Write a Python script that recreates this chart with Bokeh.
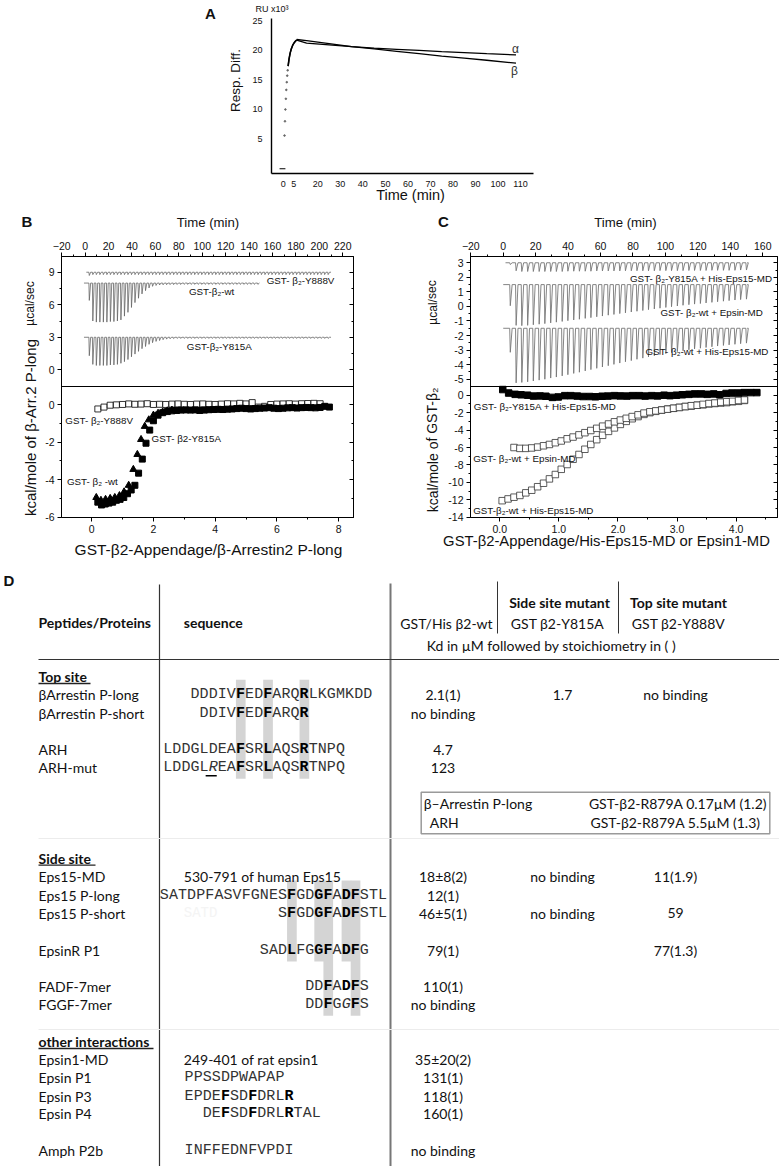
from bokeh.plotting import figure
from bokeh.models import Range1d, LinearAxis, FixedTicker, Label, Span, CustomJSTickFormatter, NumeralTickFormatter
from bokeh.layouts import column, row
from bokeh.embed import file_html
from bokeh.resources import INLINE
from bokeh.core.properties import value

SANS = "Liberation Sans"
TAB = "Lato"
MONO = "Liberation Mono"
INK = "#111111"
ROT = 1.5708

# ======================= DATA =======================
# ---- Panel A (SPR sensorgram) ----
A_base_t = [3.0, 5.6]
A_base_y = [0.0, 0.0]
A_dot_t = [5.2, 5.4, 5.6, 5.8, 6.0, 6.2, 6.4, 6.6]
A_dot_y = [5.6, 8.0, 10.0, 11.8, 13.3, 14.6, 15.7, 16.6]
A_rise_t = [6.8, 7.2, 7.7, 8.2, 8.8, 9.4, 10.0, 10.6]
A_rise_y = [17.3, 18.5, 19.5, 20.2, 20.8, 21.2, 21.5, 21.7]
A_t = [10.6, 15, 25, 35, 45, 55, 65, 75, 85, 95, 108]
A_alpha = [21.3, 21.2, 20.9, 20.6, 20.35, 20.15, 19.95, 19.75, 19.6, 19.4, 19.2]
A_beta = [21.8, 21.6, 21.1, 20.6, 20.2, 19.8, 19.4, 19.0, 18.65, 18.3, 17.8]
A_xtick_pos = [4.6, 9.3, 20, 30, 40, 50, 60, 70, 80, 90, 100, 110]
A_xtick_lab = ["0", "5", "20", "30", "40", "50", "60", "70", "80", "90", "100", "110"]
A_yticks = [5, 10, 15, 20, 25]

# ---- Panel B (ITC, beta-arrestin P-long) ----
B_inj_t = [3.2, 6.2, 9.2, 12.2, 15.2, 18.2, 21.2, 24.2, 27.2, 30.2,
           33.2, 36.2, 39.2, 42.2, 45.2, 48.2, 51.2, 54.2, 57.2, 60.2,
           63.2, 66.2, 69.2, 72.2, 75.2, 78.2, 81.2, 84.2, 87.2, 90.2,
           93.2, 96.2, 99.2, 102.2, 105.2, 108.2, 111.2, 114.2, 117.2, 120.2,
           123.2, 126.2, 129.2, 132.2, 135.2, 138.2, 141.2, 144.2, 147.2, 150.2,
           153.2, 156.2, 159.2, 162.2, 165.2, 168.2, 171.2, 174.2, 177.2, 180.2,
           183.2, 186.2, 189.2, 192.2, 195.2, 198.2, 201.2, 204.2, 207.2]
B_wt_depth = [1.6, 3.5, 3.6, 3.6, 3.6, 3.6, 3.55, 3.55, 3.5, 3.4,
              3.05, 2.7, 2.25, 1.8, 1.4, 1.0, 0.7, 0.45, 0.3, 0.22,
              0.18, 0.16, 0.15, 0.14, 0.14, 0.13, 0.13, 0.12, 0.12, 0.12,
              0.12, 0.12, 0.12, 0.12, 0.12, 0.12, 0.12, 0.12, 0.12, 0.12,
              0.12, 0.12, 0.12, 0.12, 0.12, 0.12, 0.12, 0.12, 0.12]
B_y815a_depth = [1.7, 2.5, 2.6, 2.6, 2.6, 2.6, 2.55, 2.55, 2.5, 2.4,
                 2.25, 2.05, 1.8, 1.55, 1.3, 1.05, 0.85, 0.65, 0.5, 0.38,
                 0.3, 0.22, 0.17, 0.14, 0.12, 0.1, 0.1, 0.1, 0.1, 0.1,
                 0.1, 0.1, 0.1, 0.1, 0.1, 0.1, 0.1, 0.1, 0.1, 0.1,
                 0.1, 0.1, 0.1, 0.1, 0.1, 0.1, 0.1, 0.1, 0.1, 0.1,
                 0.1, 0.1, 0.1, 0.1, 0.1, 0.1, 0.1, 0.1, 0.1, 0.1,
                 0.1, 0.1, 0.1, 0.1, 0.1, 0.1, 0.1, 0.1, 0.1]
B_y888v_depth = [0.3, 0.22, 0.22, 0.22, 0.22, 0.22, 0.22, 0.22, 0.22, 0.22,
                 0.22, 0.22, 0.22, 0.22, 0.22, 0.22, 0.22, 0.22, 0.22, 0.22,
                 0.22, 0.22, 0.22, 0.22, 0.22, 0.22, 0.22, 0.22, 0.22, 0.22,
                 0.22, 0.22, 0.22, 0.22, 0.22, 0.22, 0.22, 0.22, 0.22, 0.22,
                 0.22, 0.22, 0.22, 0.22, 0.22, 0.22, 0.22, 0.22, 0.22, 0.22,
                 0.22, 0.22, 0.22, 0.22, 0.22, 0.22, 0.22, 0.22, 0.22, 0.22,
                 0.22, 0.22, 0.22, 0.22, 0.22, 0.22, 0.22, 0.22, 0.22]
B_base = {"Y888V": 9.0, "wt": 8.0, "Y815A": 3.0}

B_wt_x = [0.15, 0.30, 0.45, 0.60, 0.75, 0.90, 1.05, 1.20, 1.35, 1.48,
          1.60, 1.72, 1.85, 2.00, 2.15, 2.30, 2.45, 2.60]
B_wt_y = [-4.95, -5.10, -5.05, -5.00, -4.95, -4.85, -4.65, -4.30, -3.45, -2.65,
          -1.85, -1.15, -0.80, -0.55, -0.45, -0.38, -0.32, -0.28]
B_y815a_x = [0.20, 0.32, 0.44, 0.56, 0.68, 0.80, 0.92, 1.04, 1.16, 1.28,
             1.40, 1.52, 1.64, 1.76, 1.88, 2.00, 2.15, 2.30, 2.45, 2.60,
             2.75, 2.90, 3.05, 3.20, 3.35, 3.50, 3.65, 3.80, 3.95, 4.10,
             4.25, 4.40, 4.55, 4.70, 4.85, 5.00, 5.15, 5.30, 5.45, 5.60,
             5.75, 5.90, 6.05, 6.20, 6.35, 6.50, 6.65, 6.80, 6.95, 7.10,
             7.25, 7.40, 7.55, 7.70]
B_y815a_y = [-5.20, -5.35, -5.30, -5.25, -5.20, -5.10, -5.05, -4.95, -4.75, -4.55,
             -4.30, -3.65, -2.90, -2.05, -1.35, -0.85, -0.55, -0.42, -0.36, -0.32,
             -0.30, -0.28, -0.27, -0.28, -0.27, -0.30, -0.28, -0.26, -0.25, -0.24,
             -0.25, -0.23, -0.22, -0.20, -0.18, -0.20, -0.22, -0.20, -0.18, -0.17,
             -0.15, -0.18, -0.20, -0.18, -0.16, -0.15, -0.17, -0.15, -0.14, -0.15,
             -0.16, -0.14, -0.08, -0.12]
B_y888v_x = [0.2, 0.4, 0.6, 0.8, 1.0, 1.2, 1.4, 1.6, 1.8, 2.0,
             2.2, 2.4, 2.6, 2.8, 3.0, 3.2, 3.4, 3.6, 3.8, 4.0,
             4.2, 4.4, 4.6, 4.8, 5.0, 5.2, 5.4, 5.6, 5.8, 6.0,
             6.2, 6.4, 6.6, 6.8, 7.0, 7.2, 7.4]
B_y888v_y = [-0.22, -0.12, -0.02, 0.00, 0.02, 0.05, 0.03, 0.04, 0.06, 0.02,
             0.03, 0.02, 0.04, 0.05, 0.03, 0.02, 0.04, 0.05, 0.03, 0.02,
             0.04, 0.06, 0.05, 0.08, 0.05, 0.12, -0.12, -0.08, 0.02, 0.04,
             0.05, 0.06, 0.04, 0.06, 0.07, 0.08, 0.06]

# ---- Panel C (ITC, Eps15 / Epsin MD) ----
C_inj_t = [4.0, 7.6, 11.1, 14.7, 18.2, 21.8, 25.3, 28.9, 32.4, 36.0,
           39.5, 43.1, 46.6, 50.2, 53.7, 57.3, 60.8, 64.4, 67.9, 71.5,
           75.0, 78.6, 82.1, 85.7, 89.2, 92.8, 96.3, 99.9, 103.4, 107.0,
           110.5, 114.1, 117.6, 121.2, 124.7, 128.3, 131.8, 135.4, 138.9, 142.5,
           146.0, 149.6]
C_y815a_depth = [0.12, 0.55, 0.6, 0.6, 0.6, 0.6, 0.6, 0.6, 0.6, 0.6,
                 0.58, 0.58, 0.58, 0.58, 0.58, 0.56, 0.56, 0.56, 0.56, 0.56,
                 0.55, 0.55, 0.55, 0.55, 0.55, 0.55, 0.54, 0.54, 0.54, 0.54,
                 0.54, 0.53, 0.53, 0.53, 0.53, 0.52, 0.52, 0.52, 0.52, 0.52,
                 0.5, 0.5]
C_epsin_depth = [1.45, 2.8, 2.82, 2.8, 2.76, 2.72, 2.68, 2.63, 2.58, 2.53,
                 2.48, 2.43, 2.38, 2.32, 2.27, 2.21, 2.16, 2.1, 2.05, 1.99,
                 1.94, 1.88, 1.83, 1.78, 1.72, 1.67, 1.62, 1.57, 1.52, 1.47,
                 1.42, 1.38, 1.34, 1.3, 1.26, 1.22, 1.18, 1.14, 1.1, 1.06,
                 1.03, 1.0]
C_eps15_depth = [1.65, 3.75, 3.72, 3.68, 3.62, 3.56, 3.5, 3.42, 3.35, 3.27,
                 3.19, 3.1, 3.02, 2.93, 2.84, 2.75, 2.66, 2.57, 2.48, 2.39,
                 2.3, 2.22, 2.13, 2.05, 1.97, 1.89, 1.81, 1.74, 1.67, 1.6,
                 1.54, 1.48, 1.42, 1.37, 1.32, 1.27, 1.22, 1.18, 1.14, 1.1,
                 1.06, 1.02]
C_base = {"Y815A": 3.0, "epsin": 1.5, "eps15": -1.5}

C_y815a_x = [0.05, 0.15, 0.26, 0.36, 0.47, 0.57, 0.68, 0.78, 0.89, 0.99,
             1.10, 1.20, 1.31, 1.41, 1.52, 1.62, 1.73, 1.83, 1.94, 2.04,
             2.15, 2.25, 2.36, 2.46, 2.57, 2.67, 2.78, 2.88, 2.99, 3.09,
             3.20, 3.30, 3.41, 3.51, 3.62, 3.72, 3.83, 3.93, 4.04, 4.14,
             4.25, 4.35]
C_y815a_y = [0.65, 0.25, 0.10, 0.05, 0.00, -0.10, -0.08, -0.12, -0.25, -0.20,
             -0.05, -0.05, -0.10, -0.15, -0.15, -0.18, -0.12, -0.10, -0.05, -0.08,
             -0.10, -0.05, -0.05, -0.10, -0.05, -0.08, 0.00, -0.05, 0.00, 0.05,
             0.10, 0.15, 0.15, 0.10, 0.15, 0.05, 0.20, 0.25, 0.25, 0.30,
             0.30, 0.30]
C_epsin_x = [0.24, 0.34, 0.44, 0.54, 0.64, 0.74, 0.84, 0.94, 1.04, 1.14,
             1.24, 1.34, 1.44, 1.54, 1.64, 1.74, 1.84, 1.94, 2.04, 2.14,
             2.24, 2.34, 2.44, 2.54, 2.64, 2.74, 2.84, 2.94, 3.04, 3.14,
             3.24, 3.34, 3.44, 3.54, 3.64, 3.74, 3.84, 3.94, 4.04, 4.14]
C_epsin_y = [-6.0, -6.1, -6.1, -6.05, -5.95, -5.8, -5.65, -5.45, -5.25, -5.0,
             -4.8, -4.55, -4.3, -4.05, -3.8, -3.55, -3.3, -3.05, -2.85, -2.65,
             -2.45, -2.25, -2.05, -1.9, -1.8, -1.7, -1.6, -1.5, -1.4, -1.3,
             -1.2, -1.15, -1.05, -0.95, -0.9, -0.8, -0.75, -0.7, -0.6, -0.55]
C_eps15_x = [0.04, 0.14, 0.24, 0.34, 0.44, 0.54, 0.64, 0.74, 0.84, 0.94,
             1.04, 1.14, 1.24, 1.34, 1.44, 1.54, 1.64, 1.74, 1.84, 1.94,
             2.04, 2.14, 2.24, 2.34, 2.44, 2.54, 2.64, 2.74, 2.84, 2.94,
             3.04, 3.14, 3.24, 3.34, 3.44, 3.54, 3.64, 3.74, 3.84, 3.94,
             4.04, 4.14]
C_eps15_y = [-12.1, -11.9, -11.7, -11.5, -11.2, -10.9, -10.5, -10.1, -9.6, -9.1,
             -8.5, -7.95, -7.35, -6.8, -6.2, -5.65, -5.1, -4.6, -4.15, -3.75,
             -3.35, -3.0, -2.7, -2.45, -2.2, -2.0, -1.85, -1.7, -1.6, -1.5,
             -1.4, -1.3, -1.25, -1.15, -1.1, -1.0, -0.95, -0.9, -0.85, -0.75,
             -0.7, -0.6]

# ---- Panel D (table) ----
T_names = ["βArrestin P-long", "βArrestin P-short", "ARH", "ARH-mut",
           "Eps15-MD", "Eps15 P-long", "Eps15 P-short", "EpsinR P1",
           "FADF-7mer", "FGGF-7mer", "Epsin1-MD", "Epsin P1", "Epsin P3",
           "Epsin P4", "Amph P2b"]
# [x] = bold residue, {x} = italic residue
T_seq = ["DDDIV[F]ED[F]ARQ[R]LKGMKDD", "DDIV[F]ED[F]ARQ[R]",
         "LDDGLDEA[F]SR[L]AQS[R]TNPQ", "LDDGL{R}EA[F]SR[L]AQS[R]TNPQ",
         "530-791 of human Eps15", "SATDPFASVFGNES[F]GD[GF]A[DF]STL",
         "S[F]GD[GF]A[DF]STL", "SAD[L]FG[GF]A[DF]G", "DD[F]A[DF]S", "DD[F]G{G}[F]S",
         "249-401 of rat epsin1", "PPSSDPWAPAP", "EPDE[F]SD[F]DRL[R]",
         "DE[F]SD[F]DRL[R]TAL", "INFFEDNFVPDI"]
T_is_desc = [False, False, False, False, True, False, False, False, False, False,
             True, False, False, False, False]
T_wt = ["2.1(1)", "no binding", "4.7", "123", "18±8(2)", "12(1)", "46±5(1)",
        "79(1)", "110(1)", "no binding", "35±20(2)", "131(1)", "118(1)", "160(1)",
        "no binding"]
T_y815a = ["1.7", "", "", "", "no binding", "", "no binding", "", "", "", "", "",
           "", "", ""]
T_y888v = ["no binding", "", "", "", "11(1.9)", "", "59", "77(1.3)", "", "", "",
           "", "", "", ""]
T_sections = ["Top site", "Side site", "other interactions"]
T_inset_left = ["β–Arrestin P-long", "ARH"]
T_inset_right = ["GST-β2-R879A 0.17µM (1.2)", "GST-β2-R879A 5.5µM (1.3)"]

# ======================= LAYOUT HELPERS =======================
def conv(g, xr, yr, px, py):
    x = xr[0] + (px - g["L"]) / (g["R"] - g["L"]) * (xr[1] - xr[0])
    y = yr[1] - (py - g["T"]) / (g["B"] - g["T"]) * (yr[1] - yr[0])
    return x, y


def label(p, g, xr, yr, px, py, text, size, align="center", angle=0.0,
          bold=False, font=SANS, color=INK, side=None):
    x, y = conv(g, xr, yr, px, py)
    lab = Label(x=x, y=y, text=text, text_font=font, text_font_size=size,
                text_align=align, text_baseline="middle", angle=angle,
                text_font_style="bold" if bold else "normal", text_color=color)
    if side:
        p.add_layout(lab, side)
    else:
        p.add_layout(lab)


def lookup_formatter(pos, labs):
    return CustomJSTickFormatter(
        args=dict(pos=pos, labs=labs),
        code="for (let i = 0; i < pos.length; i++) { if (Math.abs(pos[i] - tick) < 1e-6) return labs[i]; } return '';")


def style_axis(ax, size="10.5px"):
    ax.axis_line_color = "black"
    ax.axis_line_width = 1
    ax.major_tick_line_color = "black"
    ax.minor_tick_line_color = "black"
    ax.major_tick_out = 4
    ax.major_tick_in = 0
    ax.minor_tick_out = 2
    ax.minor_tick_in = 0
    ax.major_label_text_font = SANS
    ax.major_label_text_font_size = size
    ax.major_label_text_color = INK
    ax.major_label_standoff = 3


def mkfig(g, xr, yr):
    ml = g["L"] - g["fx"]
    mt = g["T"] - g["fy"]
    return figure(width=g["W"], height=g["H"], x_range=Range1d(*xr), y_range=Range1d(*yr),
                  x_axis_type=None, y_axis_type=None, toolbar_location=None, output_backend="svg",
                  title=None, min_border_left=ml, min_border_right=g["W"] - ml - (g["R"] - g["L"]),
                  min_border_top=mt, min_border_bottom=g["H"] - mt - (g["B"] - g["T"]))


# ======================= PANEL A =======================
gA = dict(fx=0, fy=0, L=271, R=533, T=18, B=173, W=779, H=205)
A_xlim = (-0.58, 115.77)
A_ylim = (-0.80, 25.34)
pA = mkfig(gA, A_xlim, A_ylim)
pA.outline_line_color = None
axA = LinearAxis(ticker=FixedTicker(ticks=A_xtick_pos),
                 formatter=lookup_formatter(A_xtick_pos, A_xtick_lab))
style_axis(axA, "9px")
axA.major_tick_line_color = None
axA.minor_tick_line_color = None
axA.axis_line_width = 1.4
axA.major_label_standoff = 3
pA.add_layout(axA, "below")
ayA = LinearAxis(ticker=FixedTicker(ticks=A_yticks))
style_axis(ayA, "9px")
ayA.major_tick_line_color = None
ayA.minor_tick_line_color = None
ayA.axis_line_width = 1.4
ayA.major_label_standoff = 5
pA.add_layout(ayA, "left")

pA.line(A_base_t, A_base_y, line_color="black", line_width=1.2)
pA.scatter(A_dot_t, A_dot_y, marker="circle", size=1.6, color="#666666")
pA.line(A_rise_t + A_t[1:], A_rise_y + A_alpha[1:], line_color="black", line_width=1.3)
pA.line(A_t, A_beta, line_color="black", line_width=1.3)
pA.line(A_rise_t, A_rise_y, line_color="black", line_width=1.6)

label(pA, gA, A_xlim, A_ylim, 210, 13, "A", "15px", bold=True, side="left")
label(pA, gA, A_xlim, A_ylim, 255, 8, "RU x10³", "9px", align="left", side="above")
label(pA, gA, A_xlim, A_ylim, 235, 80, "Resp. Diff.", "13.5px", angle=ROT, side="left")
label(pA, gA, A_xlim, A_ylim, 410, 194.5, "Time (min)", "14.5px", side="below")
label(pA, gA, A_xlim, A_ylim, 515, 48, "α", "12px", color="#333333")
label(pA, gA, A_xlim, A_ylim, 514, 70, "β", "12px", color="#333333")


# ======================= ITC PANELS =======================
def thermo(times, depths, base, t0, t1):
    xs, ys = [t0], [base]
    for t, d in zip(times, depths):
        xs += [t, t + 0.35, t + 1.5]
        ys += [base, base - d, base]
    xs.append(t1)
    ys.append(base)
    return xs, ys


def itc_fig(g, ratio_lim, time_lim, ucal_lim, kcal_lim,
            kcal_major, kcal_minor, ucal_major, ucal_minor,
            time_major, time_minor, ratio_major, ratio_minor, ratio_fmt):
    T, M, B = g["T"], g["M"], g["B"]
    k0, k1 = kcal_lim
    kfull = (k0, k0 + (k1 - k0) * (B - T) / (B - M))
    u0, u1 = ucal_lim
    ufull = (u1 - (u1 - u0) * (B - T) / (M - T), u1)
    p = mkfig(g, ratio_lim, kfull)
    p.extra_x_ranges = {"time": Range1d(*time_lim)}
    p.extra_y_ranges = {"ucal": Range1d(*ufull)}
    p.outline_line_color = "black"
    p.outline_line_width = 1

    def u2k(u):
        return round(kfull[0] + (u - ufull[0]) / (ufull[1] - ufull[0]) * (kfull[1] - kfull[0]), 6)

    pos = [float(k) for k in kcal_major] + [u2k(u) for u in ucal_major]
    labs = [str(k) for k in kcal_major] + [str(u) for u in ucal_major]
    minor = [float(k) for k in kcal_minor] + [u2k(u) for u in ucal_minor]
    ly = LinearAxis(ticker=FixedTicker(ticks=pos, minor_ticks=minor), formatter=lookup_formatter(pos, labs))
    style_axis(ly)
    p.add_layout(ly, "left")
    ry = LinearAxis(ticker=FixedTicker(ticks=pos, minor_ticks=minor),
                    formatter=CustomJSTickFormatter(code="return '';"))
    style_axis(ry)
    ry.major_tick_out = 0
    ry.major_tick_in = 4
    ry.minor_tick_out = 0
    ry.minor_tick_in = 2
    ry.major_label_standoff = 0
    ry.major_label_text_font_size = "1px"
    p.add_layout(ry, "right")
    tx = LinearAxis(x_range_name="time", ticker=FixedTicker(ticks=time_major, minor_ticks=time_minor))
    style_axis(tx)
    p.add_layout(tx, "above")
    bx = LinearAxis(ticker=FixedTicker(ticks=ratio_major, minor_ticks=ratio_minor))
    if ratio_fmt:
        bx.formatter = NumeralTickFormatter(format=ratio_fmt)
    style_axis(bx)
    p.add_layout(bx, "below")
    p.add_layout(Span(location=kcal_lim[1], dimension="width", line_color="black", line_width=1))
    return p, (ratio_lim, kfull)


# ---------- Panel B ----------
gB = dict(fx=0, fy=205, L=46, R=353, T=256, M=386, B=517, W=390, H=360)
B_ratio = (-0.977, 8.481)
B_time = (-20.2, 229.2)
B_ucal = (-1.54, 10.45)
B_kcal = (-6.02, 0.98)
pB, BL = itc_fig(gB, B_ratio, B_time, B_ucal, B_kcal,
                 [-6, -4, -2, 0], [-5, -3, -1], [0, 3, 6, 9], [1.5, 4.5, 7.5],
                 list(range(-20, 221, 20)), list(range(-10, 221, 20)),
                 [0, 2, 4, 6, 8], [1, 3, 5, 7], None)
nwt = len(B_wt_depth)
x, y = thermo(B_inj_t, B_y888v_depth, B_base["Y888V"], 1.0, 210.0)
pB.line(x, y, x_range_name="time", y_range_name="ucal", line_color="#666666", line_width=0.8)
x, y = thermo(B_inj_t[:nwt], B_wt_depth, B_base["wt"], -1.0, 148.5)
pB.line(x, y, x_range_name="time", y_range_name="ucal", line_color="#666666", line_width=0.8)
x, y = thermo(B_inj_t, B_y815a_depth, B_base["Y815A"], -1.0, 210.0)
pB.line(x, y, x_range_name="time", y_range_name="ucal", line_color="#666666", line_width=0.8)

pB.scatter(B_y888v_x, B_y888v_y, marker="square", size=6, fill_color="white", line_color="black", line_width=0.8)
pB.scatter(B_y815a_x, B_y815a_y, marker="square", size=6, fill_color="black", line_color="black")
pB.scatter(B_wt_x, B_wt_y, marker="triangle", size=7, fill_color="black", line_color="black")

label(pB, gB, *BL, 4, 221, "B", "15px", align="left", bold=True, side="left")
label(pB, gB, *BL, 200, 222, "Time (min)", "13.2px", side="above")
label(pB, gB, *BL, 200.5, 549, "GST-β2-Appendage/β-Arrestin2 P-long", "15.5px", side="below")
label(pB, gB, *BL, 13, 427, "kcal/mole of β-Arr.2 P-long", "15px", angle=ROT, side="left")
label(pB, gB, *BL, 13, 303, "µcal/sec", "12px", angle=ROT, side="left")
label(pB, gB, *BL, 261.7, 280, "GST- β₂-Y888V", "9.8px", align="left")
label(pB, gB, *BL, 180, 291, "GST-β₂-wt", "9.8px", align="left")
label(pB, gB, *BL, 177.7, 345.7, "GST-β₂-Y815A", "9.8px", align="left")
label(pB, gB, *BL, 50, 420, "GST- β₂-Y888V", "9.8px", align="left")
label(pB, gB, *BL, 140.7, 438, "GST- β2-Y815A", "9.8px", align="left")
label(pB, gB, *BL, 51.7, 481, "GST- β₂ -wt", "9.8px", align="left")

# ---------- Panel C ----------
gC = dict(fx=390, fy=205, L=470, R=777, T=256, M=386, B=517, W=389, H=360)
C_ratio = (-0.496, 4.70)
C_time = (-20.18, 169.1)
C_ucal = (-5.5, 3.43)
C_kcal = (-14.03, 1.0)
pC, CL = itc_fig(gC, C_ratio, C_time, C_ucal, C_kcal,
                 [-14, -12, -10, -8, -6, -4, -2, 0], [-13, -11, -9, -7, -5, -3, -1],
                 [-5, -4, -3, -2, -1, 0, 1, 2, 3], [-4.5, -3.5, -2.5, -1.5, -0.5, 0.5, 1.5, 2.5],
                 list(range(-20, 161, 20)), list(range(-10, 161, 20)),
                 [0, 1, 2, 3, 4], [0.5, 1.5, 2.5, 3.5, 4.5], "0.0")
x, y = thermo(C_inj_t, C_y815a_depth, C_base["Y815A"], 1.4, 150.4)
pC.line(x, y, x_range_name="time", y_range_name="ucal", line_color="#777777", line_width=0.9)
x, y = thermo(C_inj_t, C_epsin_depth, C_base["epsin"], 0.0, 150.4)
pC.line(x, y, x_range_name="time", y_range_name="ucal", line_color="#777777", line_width=0.9)
x, y = thermo(C_inj_t, C_eps15_depth, C_base["eps15"], 0.0, 150.4)
pC.line(x, y, x_range_name="time", y_range_name="ucal", line_color="#777777", line_width=0.9)

pC.scatter(C_eps15_x, C_eps15_y, marker="square", size=6.5, fill_color="white", line_color="#333333", line_width=0.8)
pC.scatter(C_epsin_x, C_epsin_y, marker="square", size=6.5, fill_color="white", line_color="#333333", line_width=0.8)
pC.scatter(C_y815a_x, C_y815a_y, marker="square", size=6.5, fill_color="black", line_color="black")

label(pC, gC, *CL, 443, 221, "C", "15px", bold=True, side="left")
label(pC, gC, *CL, 625, 222, "Time (min)", "13.2px", side="above")
label(pC, gC, *CL, 606, 540, "GST-β2-Appendage/His-Eps15-MD or Epsin1-MD", "14.8px", side="below")
label(pC, gC, *CL, 432, 302, "µcal/sec", "12px", angle=ROT, side="left")
label(pC, gC, *CL, 432, 449.5, "kcal/mole of GST-β₂", "14px", angle=ROT, side="left")
label(pC, gC, *CL, 629.5, 277.5, "GST- β₂-Y815A + His-Eps15-MD", "9.8px", align="left")
label(pC, gC, *CL, 660, 311.5, "GST- β₂-wt + Epsin-MD", "9.8px", align="left")
label(pC, gC, *CL, 645, 350.7, "GST- β₂-wt + His-Eps15-MD", "9.8px", align="left")
label(pC, gC, *CL, 473.3, 405.7, "GST- β₂-Y815A + His-Eps15-MD", "9.8px", align="left")
label(pC, gC, *CL, 472.7, 458.3, "GST- β₂-wt + Epsin-MD", "9.8px", align="left")
label(pC, gC, *CL, 472.7, 510, "GST-β₂-wt + His-Eps15-MD", "9.8px", align="left")

# ======================= PANEL D (table) =======================
D_Y0 = 565
pD = figure(width=779, height=1166 - D_Y0, x_range=Range1d(0, 779), y_range=Range1d(1166, D_Y0),
            x_axis_type=None, y_axis_type=None, toolbar_location=None, output_backend="svg",
            title=None, min_border_left=0, min_border_right=0, min_border_top=0, min_border_bottom=0)
pD.outline_line_color = None


def txt(xs, ys, texts, size="14px", font=TAB, style="normal", align="left", color=INK):
    pD.text(x=xs, y=ys, text=texts, text_font=value(font), text_font_size=value(size),
            text_font_style=value(style), text_align=value(align), text_baseline=value("middle"),
            text_color=color)


ROW_Y = [694.3, 712.7, 749.0, 767.3, 876.0, 895.0, 912.7, 950.0, 986.0, 1004.3,
         1059.0, 1077.3, 1095.7, 1113.3, 1150.0]
SEC_Y = [676.0, 857.7, 1041.0]
SEC_UL = [52, 57, 115]
CW = 9.09
TOP_X0, SIDE_X0, OTHER_X0 = 162.7, 159.3, 184.0
SEQ_X0 = [TOP_X0 + 3 * CW, TOP_X0 + 4 * CW, TOP_X0, TOP_X0, 183.3,
          SIDE_X0, SIDE_X0 + 13 * CW, SIDE_X0 + 11 * CW, SIDE_X0 + 16 * CW, SIDE_X0 + 16 * CW,
          183.3, OTHER_X0, OTHER_X0, OTHER_X0 + 2 * CW, OTHER_X0]

# highlight bars (column index, first row, last row, anchor)
BARS = [(8, 0, 3, TOP_X0), (11, 0, 3, TOP_X0), (15, 0, 3, TOP_X0),
        (14, 5, 7, SIDE_X0), (17, 5, 7, SIDE_X0), (18, 5, 9, SIDE_X0),
        (20, 5, 7, SIDE_X0), (21, 5, 9, SIDE_X0)]
pD.quad(left=[a + c * CW for c, r0, r1, a in BARS],
        right=[a + (c + 1) * CW + 0.6 for c, r0, r1, a in BARS],
        top=[ROW_Y[r0] - 15 for c, r0, r1, a in BARS],
        bottom=[ROW_Y[r1] + 11 for c, r0, r1, a in BARS],
        fill_color="#d4d4d4", line_color=None)

# grid lines
pD.segment(x0=[159], y0=[584], x1=[159], y1=[1166], line_color="#333333", line_width=1.2)
pD.segment(x0=[390], y0=[583], x1=[390], y1=[1166], line_color="#777777", line_width=2)
pD.segment(x0=[497, 618], y0=[581, 581], x1=[497, 618], y1=[633, 633], line_color="#333333", line_width=1)
pD.segment(x0=[38], y0=[659], x1=[779], y1=[659], line_color="#333333", line_width=1.2)
pD.segment(x0=[38, 38], y0=[838, 1029], x1=[779, 779], y1=[838, 1029], line_color="#ececec", line_width=1)

# headers
txt([3], [580], ["D"], size="15px", font=SANS, style="bold")
txt([38, 183.3], [621.7, 621.7], ["Peptides/Proteins", "sequence"], style="bold")
txt([559, 678], [601.7, 601.7], ["Side site mutant", "Top site mutant"], style="bold", align="center")
txt([446, 557, 678], [623, 623, 623], ["GST/His β2-wt", "GST β2-Y815A", "GST β2-Y888V"], align="center")
txt([551], [645], ["Kd in µM followed by stoichiometry in ( )"], align="center")

# sections
txt([38] * 3, SEC_Y, T_sections, style="bold")
pD.segment(x0=[38] * 3, y0=[s + 7 for s in SEC_Y], x1=[38 + w for w in SEC_UL], y1=[s + 7 for s in SEC_Y],
           line_color="#222222", line_width=1.3)

# names
txt([38] * len(T_names), ROW_Y, T_names)

# sequences
for seq, x0, yy, desc in zip(T_seq, SEQ_X0, ROW_Y, T_is_desc):
    if desc:
        txt([x0], [yy], [seq])
        continue
    groups = {"normal": ([], []), "bold": ([], []), "italic": ([], [])}
    st = "normal"
    i = 0
    for ch in seq:
        if ch == "[":
            st = "bold"
            continue
        if ch == "{":
            st = "italic"
            continue
        if ch in "]}":
            st = "normal"
            continue
        groups[st][0].append(x0 + (i + 0.5) * CW)
        groups[st][1].append(ch)
        if st == "italic" and seq.startswith("LDDGL"):
            pD.segment(x0=[x0 + i * CW - 3], y0=[yy + 8], x1=[x0 + (i + 1) * CW - 1], y1=[yy + 8],
                       line_color="black", line_width=1.5)
        i += 1
    for style, (xs, cs) in groups.items():
        if xs:
            txt(xs, [yy] * len(xs), cs, size="15px", font=MONO, style=style, align="center",
                color="#000000" if style == "bold" else "#333333")
# faint ghost text in Eps15 P-short row
txt([183.3], [ROW_Y[6]], ["SATD"], size="14px", font=MONO, color="#f4f4f4")

# values
txt([442.5] * len(T_wt), ROW_Y, T_wt, align="center")
ys = [y for y, v in zip(ROW_Y, T_y815a) if v]
txt([562] * len(ys), ys, [v for v in T_y815a if v], align="center")
ys = [y for y, v in zip(ROW_Y, T_y888v) if v]
txt([675] * len(ys), ys, [v for v in T_y888v if v], align="center")

# inset box
pD.quad(left=[420.7], right=[769.3], top=[791.7], bottom=[833.3], fill_color=None,
        line_color="#9a9a9a", line_width=1.5)
txt([423.3, 429.3], [803.3, 822.3], T_inset_left)
txt([766.5, 760], [803.3, 822.3], T_inset_right, align="right")

layout = column(row(pA), row(pB, pC), row(pD))
open("out.html", "w").write(file_html(layout, INLINE))
